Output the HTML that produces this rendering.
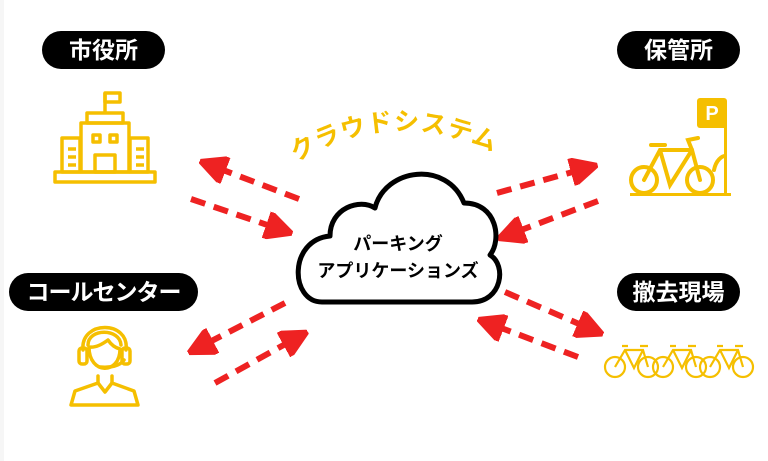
<!DOCTYPE html>
<html><head><meta charset="utf-8"><style>
html,body{margin:0;padding:0;background:#fff;}
body{width:768px;height:461px;overflow:hidden;position:relative;font-family:"Liberation Sans","Noto Sans CJK JP",sans-serif;}
.pill{position:absolute;background:#000;color:#fff;border-radius:20px;font-weight:bold;font-size:23px;text-align:center;line-height:38px;height:38px;}
</style></head><body>
<div style="position:absolute;left:0;top:0;width:4px;height:461px;background:#f6f6f6"></div>
<div class="pill" style="left:42px;top:31px;width:123px;">市役所</div>
<div class="pill" style="left:9px;top:273px;width:189px;letter-spacing:-1px;">コールセンター</div>
<div class="pill" style="left:617px;top:31px;width:123px;">保管所</div>
<div class="pill" style="left:617px;top:273px;width:123px;">撤去現場</div>
<svg width="768" height="461" style="position:absolute;left:0;top:0" xmlns="http://www.w3.org/2000/svg">
<defs>
<marker id="ah" viewBox="0 0 10 10" refX="6" refY="5" markerWidth="4.6" markerHeight="4.6" orient="auto" markerUnits="strokeWidth">
<path d="M0,0 L10,5 L0,10 Z" fill="#ee2222" stroke="#ee2222" stroke-width="1.5" stroke-linejoin="round"/></marker>
<path id="arc" d="M296,162 Q400,98 512,162"/>
</defs>
<g stroke="#ee2222" stroke-width="6" stroke-dasharray="15 9" fill="none" marker-end="url(#ah)">
<line x1="299" y1="199" x2="210" y2="165"/>
<line x1="191" y1="199" x2="282" y2="230"/>
<line x1="497" y1="193" x2="587" y2="168"/>
<line x1="598" y1="201" x2="508" y2="235"/>
<line x1="505" y1="292" x2="593" y2="330"/>
<line x1="578" y1="357" x2="488" y2="323"/>
<line x1="285" y1="303" x2="198" y2="348"/>
<line x1="215" y1="383" x2="298" y2="337"/>
</g>
<text font-size="25" fill="#f5bf00" font-weight="bold" font-family="Liberation Sans, Noto Sans CJK JP, sans-serif" letter-spacing="1"><textPath href="#arc">クラウドシステム</textPath></text>
<path d="M322,302 C290,302 288,240 330,236 C330,208 360,198 375,208 C385,168 447,160 464,203 C497,203 502,240 490,255 C507,265 502,302 472,302 Z" fill="#fff" stroke="#000" stroke-width="5" stroke-linejoin="round"/>
<text x="398" y="250" font-size="18" font-weight="bold" text-anchor="middle" font-family="Liberation Sans, Noto Sans CJK JP, sans-serif">パーキング</text>
<text x="398" y="277" font-size="18" font-weight="bold" text-anchor="middle" font-family="Liberation Sans, Noto Sans CJK JP, sans-serif">アプリケーションズ</text>
<!-- building -->
<g fill="none" stroke="#f5bf00" stroke-width="3.5" stroke-linejoin="round">
<rect x="55" y="172" width="100" height="10"/>
<rect x="62" y="138" width="18" height="34"/><rect x="130" y="138" width="18" height="34"/>
<rect x="81" y="123" width="48" height="49"/><rect x="87" y="113" width="36" height="10"/>
<line x1="105" y1="113" x2="105" y2="93"/><rect x="105" y="93" width="15" height="9"/>
<rect x="93" y="135" width="7" height="7"/><rect x="110" y="135" width="7" height="7"/>
<rect x="95" y="155" width="20" height="17"/>
<line x1="68" y1="149" x2="76" y2="149"/><line x1="68" y1="157" x2="76" y2="157"/><line x1="68" y1="165" x2="76" y2="165"/>
<line x1="136" y1="149" x2="144" y2="149"/><line x1="136" y1="157" x2="144" y2="157"/><line x1="136" y1="165" x2="144" y2="165"/>
</g>
<!-- operator -->
<g fill="none" stroke="#f5bf00" stroke-width="3.5" stroke-linejoin="round" stroke-linecap="round">
<path d="M83,350 C80,320 130,320 126,350"/>
<path d="M88,345 C88,328 120,328 121,345"/>
<rect x="79" y="348" width="8" height="16" rx="3"/><rect x="122" y="348" width="8" height="16" rx="3"/>
<path d="M89,347 C96,348 104,343 108,340 C112,346 116,348 120,349 C120,375 89,375 89,347"/>
<path d="M100,367 C110,368 120,366 124,360"/>
<path d="M98,376 L98,383 L75,391 L71,405 L138,405 L134,391 L112,383 L112,376"/>
<path d="M98,383 L105,392 L112,383"/>
</g>
<!-- parking bike -->
<g fill="#f5bf00">
<rect x="697" y="98" width="30" height="30" rx="3"/>
<rect x="724" y="125" width="3" height="70"/>
<rect x="630" y="193" width="101" height="3"/>
</g>
<text x="712" y="120" font-size="20" font-weight="bold" fill="#fff" text-anchor="middle" font-family="Liberation Sans, sans-serif">P</text>
<g fill="none" stroke="#f5bf00" stroke-width="4" stroke-linecap="round">
<circle cx="644" cy="180" r="13"/><circle cx="700" cy="180" r="13"/>
<path d="M644,180 L660,150 L692,150 L700,180 M660,150 L670,185 L692,150 M692,150 L688,140 L698,138 M651,145 L665,145"/>
<path d="M714,170 C716,160 722,156 725,156"/>
</g>
<!-- three bikes -->
<g fill="none" stroke="#f5bf00" stroke-width="2.2">
<g><circle cx="615" cy="367" r="10"/><circle cx="648" cy="367" r="10"/><path d="M615,367 L625,350 L643,350 L648,367 M625,350 L634,368 L643,350 M622,346 L628,346 M640,346 L648,346"/></g>
<g transform="translate(48,0)"><circle cx="615" cy="367" r="10"/><circle cx="648" cy="367" r="10"/><path d="M615,367 L625,350 L643,350 L648,367 M625,350 L634,368 L643,350 M622,346 L628,346 M640,346 L648,346"/></g>
<g transform="translate(95,0)"><circle cx="615" cy="367" r="10"/><circle cx="648" cy="367" r="10"/><path d="M615,367 L625,350 L643,350 L648,367 M625,350 L634,368 L643,350 M622,346 L628,346 M640,346 L648,346"/></g>
</g>
</svg>
</body></html>
